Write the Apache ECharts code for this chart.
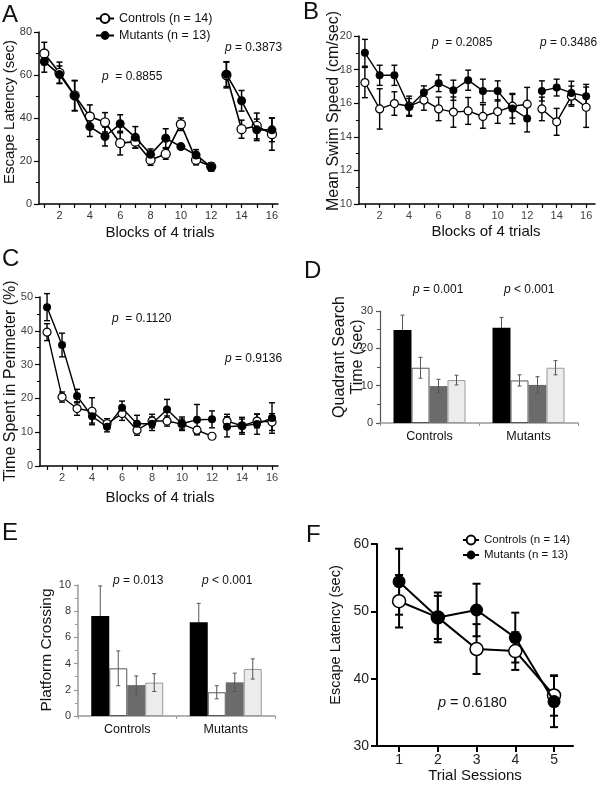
<!DOCTYPE html>
<html><head><meta charset="utf-8">
<script src="https://cdn.jsdelivr.net/npm/echarts@6/dist/echarts.min.js"></script>
<style>html,body{margin:0;padding:0;background:#fff}#c{width:600px;height:791px}</style>
</head><body><div id="c"></div>
<script>
// ---------------- DATA ----------------
const blocks = [1,2,3,4,5,6,7,8,9,10,11,12,13,14,15,16];
const blockLabels = [2,4,6,8,10,12,14,16];
const phase1Len = 12;

// Panel A: escape latency (sec)
const aCtrl    = [70,61,50.5,40.7,38,28.3,29,20.5,23.3,37.1,20.5,17.4,60,34.8,36.3,32.5];
const aCtrlErr = [5.2,5,7,5.4,4.5,5.5,3,2.5,2.5,2.9,2.3,1.8,6,4.2,6,7.5];
const aMut     = [66.3,60.2,50.3,36,31.4,37.3,31,23.1,30.6,26.7,22.8,17.1,60.4,48,34.5,34.5];
const aMutErr  = [5,4,7,4.6,4.4,4.2,5,2.5,4.4,1,2.5,1.8,5.8,4.8,5,5.5];

// Panel B: mean swim speed (cm/sec)
const bCtrl    = [17.23,15.66,15.98,15.82,16.18,15.66,15.47,15.54,15.21,15.5,15.82,15.94,15.66,14.89,16.42,15.76];
const bCtrlErr = [0.9,1.2,0.7,0.6,0.6,0.7,0.9,0.8,0.7,0.7,0.7,1.0,0.7,0.8,0.6,1.2];
const bMut     = [19.0,17.66,17.66,15.78,16.63,17.19,16.77,17.37,16.73,16.73,15.68,15.09,16.73,16.93,16.61,16.42];
const bMutErr  = [0.8,0.6,0.6,0.5,0.4,0.5,0.6,0.6,0.7,0.6,0.9,0.8,0.6,0.5,0.7,0.7];

// Panel C: time spent in perimeter (%)
const cCtrl    = [39.6,20.4,17,16.2,12.5,15.5,10.6,13.3,13.3,12.4,10.6,8.8,13.3,11.9,13.3,13];
const cCtrlErr = [2.5,1.5,2,4,1.5,2,1.5,2,1.5,1.5,1,0.8,2,2,2,2.5];
const cMut     = [47,35.8,20.7,14.7,11.6,17.2,12.5,12.5,16.7,12.5,13.7,13.8,11.6,11.9,12.4,14.2];
const cMutErr  = [4,3.5,2,2,1.5,2,2.5,2,3,2,4.5,2.5,3,2.5,3,4.5];

// Panel D: quadrant search time (sec)
const groups = ['Controls','Mutants'];
const dQ1 = [24.9,25.5], dQ1Err = [4,2.8];
const dQ2 = [14.8,11.4], dQ2Err = [2.8,1.5];
const dQ3 = [9.9,10.2],  dQ3Err = [1.8,2.2];
const dQ4 = [11.5,14.8], dQ4Err = [1.3,1.9];

// Panel E: platform crossing
const eQ1 = [7.63,7.15], eQ1Err = [2.3,1.45];
const eQ2 = [3.64,1.81], eQ2Err = [1.33,0.5];
const eQ3 = [2.36,2.57], eQ3Err = [0.7,0.7];
const eQ4 = [2.55,3.59], eQ4Err = [0.68,0.77];

// Panel F: escape latency over trial sessions
const sessions = [1,2,3,4,5];
const fCtrl    = [51.5,49.1,44.4,44.1,37.5];
const fCtrlErr = [3.9,3.2,3.7,2.8,3.0];
const fMut     = [54.4,49.1,50.2,46.1,36.6];
const fMutErr  = [4.9,3.7,3.9,3.7,3.8];

const ctrlName = 'Controls (n = 14)';
const mutName  = 'Mutants (n = 13)';

// ---------------- HELPERS ----------------
const FONT = "'Liberation Sans', Arial, Helvetica, sans-serif";

function yVal(gi, min, max, interval, o) {
  o = o || {};
  const lc = o.lineColor || '#000';
  return {gridIndex: gi, type: 'value', min: min, max: max, interval: interval,
    axisLine: {show: true, onZero: false, lineStyle: {color: lc, width: o.lineWidth || 1.5}},
    axisTick: {show: true, length: o.tickLen || 5, lineStyle: {color: lc, width: o.tickWidth || 1.2}},
    minorTick: {show: !!o.minor, splitNumber: 2, length: 3, lineStyle: {color: lc, width: 1}},
    axisLabel: {fontSize: o.fs || 11, color: o.labelColor || '#333', fontFamily: FONT, margin: o.margin || 7},
    splitLine: {show: false}, minorSplitLine: {show: false}};
}
function xVal(gi, min, max, ticks, labels, o) {
  o = o || {};
  const lc = o.lineColor || '#000';
  return {gridIndex: gi, type: 'value', min: min, max: max,
    axisLine: {show: true, onZero: false, lineStyle: {color: lc, width: o.lineWidth || 1.5}},
    axisTick: {show: true, customValues: ticks, length: o.tickLen || 4, lineStyle: {color: lc, width: o.tickWidth || 1.2}},
    axisLabel: {customValues: labels, fontSize: o.fs || 11, color: o.labelColor || '#333', fontFamily: FONT, margin: o.margin || 6},
    splitLine: {show: false}};
}
function xCat(gi, o) {
  return {gridIndex: gi, type: 'category', data: groups,
    axisLine: {show: true, lineStyle: {color: o.lineColor, width: o.lineWidth}},
    axisTick: {show: true, length: 3, lineStyle: {color: o.lineColor, width: 1}},
    axisLabel: {fontSize: 12.5, color: '#111', fontFamily: FONT, margin: 7},
    splitLine: {show: false}};
}

function errRender(capW, color, lw, offset, lowColor) {
  return function (params, api) {
    const x = api.value(0), y = api.value(1), e = api.value(2);
    const top = api.coord([x, y + e]), mid = api.coord([x, y]), bot = api.coord([x, y - e]);
    const cx = top[0] + (offset || 0), h = capW / 2;
    const st = {stroke: color, lineWidth: lw};
    const st2 = {stroke: lowColor || color, lineWidth: lw};
    return {type: 'group', children: [
      {type: 'line', shape: {x1: cx, y1: top[1], x2: cx, y2: mid[1]}, style: st},
      {type: 'line', shape: {x1: cx, y1: mid[1], x2: cx, y2: bot[1]}, style: st2},
      {type: 'line', shape: {x1: cx - h, y1: top[1], x2: cx + h, y2: top[1]}, style: st},
      {type: 'line', shape: {x1: cx - h, y1: bot[1], x2: cx + h, y2: bot[1]}, style: st2}
    ]};
  };
}

const series = [];
function linePanel(gi, xs, ctrl, ctrlErr, mut, mutErr, split, st, names) {
  const errC = xs.map((x, i) => [x, ctrl[i], ctrlErr[i]]);
  const errM = xs.map((x, i) => [x, mut[i], mutErr[i]]);
  [errC, errM].forEach(d => series.push({type: 'custom', xAxisIndex: gi, yAxisIndex: gi, z: 2,
    renderItem: errRender(st.cap, '#000', st.errW), data: d, encode: {x: 0, y: 1}, silent: true}));
  const parts = split ? [[0, split], [split, xs.length]] : [[0, xs.length]];
  const defs = [
    {name: names[0], vals: ctrl, item: {color: '#fff', borderColor: '#000', borderWidth: st.bw}, z: 4},
    {name: names[1], vals: mut, item: {color: '#000', borderColor: '#000', borderWidth: 0}, z: 5}
  ];
  defs.forEach(d => parts.forEach(p => {
    series.push({type: 'line', name: d.name, xAxisIndex: gi, yAxisIndex: gi, z: d.z,
      data: xs.slice(p[0], p[1]).map((x, k) => [x, d.vals[p[0] + k]]),
      symbol: 'circle', symbolSize: st.sym, showSymbol: true,
      lineStyle: {color: '#000', width: st.lw}, itemStyle: d.item,
      emphasis: {disabled: true}});
  }));
}

function barPanel(gi, vals, errs, bw, errColor) {
  const styles = [
    {color: '#000'},
    {color: '#fff', borderColor: '#555', borderWidth: 1},
    {color: '#6b6b6b'},
    {color: '#ececec', borderColor: '#999', borderWidth: 1}
  ];
  const lows = ['#000', errColor, errColor, errColor];
  vals.forEach((v, k) => {
    series.push({type: 'bar', name: 'Q' + (k + 1), xAxisIndex: gi, yAxisIndex: gi, data: v,
      barWidth: bw, barGap: '0%', itemStyle: styles[k], z: 2, emphasis: {disabled: true}});
  });
  vals.forEach((v, k) => {
    series.push({type: 'custom', xAxisIndex: gi, yAxisIndex: gi, z: 3, silent: true,
      renderItem: errRender(4, errColor, 1, (k - 1.5) * bw, lows[k]),
      data: groups.map((g, i) => [i, v[i], errs[k][i]]), encode: {x: 0, y: 1}});
  });
}

// ---------------- SERIES ----------------
linePanel(0, blocks, aCtrl, aCtrlErr, aMut, aMutErr, phase1Len, {cap: 6, errW: 1.5, sym: 9, lw: 1.6, bw: 1.3}, [ctrlName, mutName]);
linePanel(1, blocks, bCtrl, bCtrlErr, bMut, bMutErr, phase1Len, {cap: 6, errW: 1.4, sym: 8, lw: 1.4, bw: 1.2}, ['Controls', 'Mutants']);
linePanel(2, blocks, cCtrl, cCtrlErr, cMut, cMutErr, phase1Len, {cap: 6, errW: 1.4, sym: 8, lw: 1.4, bw: 1.2}, ['Controls', 'Mutants']);
barPanel(3, [dQ1, dQ2, dQ3, dQ4], [dQ1Err, dQ2Err, dQ3Err, dQ4Err], 18, '#555');
barPanel(4, [eQ1, eQ2, eQ3, eQ4], [eQ1Err, eQ2Err, eQ3Err, eQ4Err], 18, '#555');
linePanel(5, sessions, fCtrl, fCtrlErr, fMut, fMutErr, 0, {cap: 8, errW: 2, sym: 13, lw: 2, bw: 1.5}, [ctrlName, mutName]);

// ---------------- TEXT ----------------
function txt(x, y, text, size, o) {
  o = o || {};
  return {type: 'text', x: x, y: y, rotation: o.rot || 0, silent: true, z: 10,
    style: {text: text, fontSize: size, fontFamily: FONT, fill: o.color || '#111',
      align: o.align || 'left', verticalAlign: 'middle',
      textAlign: o.align || 'left', textVerticalAlign: 'middle',
      lineHeight: o.lh, rich: {i: {fontStyle: 'italic', fontSize: size, fontFamily: FONT, fill: o.color || '#111'}}}};
}
const R = Math.PI / 2;
const graphics = [
  // panel letters
  txt(2, 15, 'A', 24), txt(303, 12, 'B', 24), txt(2, 259, 'C', 24),
  txt(304, 271, 'D', 24), txt(2, 533, 'E', 24), txt(306, 535, 'F', 24),
  // y titles
  txt(10, 112, 'Escape Latency (sec)', 15, {rot: R, align: 'center'}),
  txt(334, 111, 'Mean Swim Speed (cm/sec)', 16, {rot: R, align: 'center'}),
  txt(11, 381, 'Time Spent in Perimeter (%)', 16, {rot: R, align: 'center'}),
  txt(340, 357, 'Quadrant Search', 16, {rot: R, align: 'center'}),
  txt(358, 357, 'Time (sec)', 16, {rot: R, align: 'center'}),
  txt(47, 650, 'Platform Crossing', 15.5, {rot: R, align: 'center'}),
  txt(336, 635, 'Escape Latency (sec)', 14.5, {rot: R, align: 'center'}),
  // x titles
  txt(160, 233, 'Blocks of 4 trials', 15, {align: 'center'}),
  txt(486, 232, 'Blocks of 4 trials', 15, {align: 'center'}),
  txt(160, 498, 'Blocks of 4 trials', 15, {align: 'center'}),
  txt(475, 776, 'Trial Sessions', 15, {align: 'center'}),
  // p values
  txt(102, 77, '{i|p}  = 0.8855', 12),
  txt(225, 48, '{i|p} = 0.3873', 12),
  txt(432, 43, '{i|p}  = 0.2085', 12),
  txt(540, 43, '{i|p} = 0.3486', 12),
  txt(112, 319, '{i|p}  = 0.1120', 12),
  txt(225, 359, '{i|p} = 0.9136', 12),
  txt(413, 290, '{i|p} = 0.001', 12),
  txt(504, 290, '{i|p} < 0.001', 12),
  txt(113, 581, '{i|p} = 0.013', 12),
  txt(202, 581, '{i|p} < 0.001', 12),
  txt(438, 703, '{i|p} = 0.6180', 14.5)
];

// ---------------- OPTION ----------------
const option = {
  animation: false,
  backgroundColor: '#fff',
  textStyle: {fontFamily: FONT},
  grid: [
    {left: 39, top: 32, width: 239, height: 172},
    {left: 359, top: 36, width: 236, height: 168},
    {left: 40, top: 297, width: 238, height: 169},
    {left: 380, top: 311, width: 198, height: 112},
    {left: 78, top: 585, width: 197, height: 131},
    {left: 377, top: 544, width: 196, height: 202}
  ],
  xAxis: [
    xVal(0, 0.65, 16.4, blocks, blockLabels, {}),
    xVal(1, 0.6, 16.6, blocks, blockLabels, {labelColor: '#444'}),
    xVal(2, 0.53, 16.4, blocks, blockLabels, {labelColor: '#444'}),
    xCat(3, {lineColor: '#999', lineWidth: 1.5}),
    xCat(4, {lineColor: '#999', lineWidth: 1.5}),
    xVal(5, 0.43, 5.49, sessions, sessions, {lineWidth: 2, tickWidth: 2, tickLen: 6, fs: 14, labelColor: '#222', margin: 7})
  ],
  yAxis: [
    yVal(0, 0, 80, 20, {minor: true}),
    yVal(1, 10, 20, 2, {minor: true, labelColor: '#444'}),
    yVal(2, 0, 50, 10, {minor: true, labelColor: '#444'}),
    yVal(3, 0, 30, 10, {minor: true, lineColor: '#555', lineWidth: 1.2, tickLen: 4}),
    yVal(4, 0, 10, 2, {minor: true, lineColor: '#999', lineWidth: 1.5, tickLen: 4}),
    yVal(5, 30, 60, 10, {lineWidth: 2, tickWidth: 2, tickLen: 6, fs: 14, labelColor: '#222', margin: 8})
  ],
  legend: [
    {data: [ctrlName, mutName], left: 90, top: 7, orient: 'vertical', selectedMode: false,
      itemWidth: 18, itemHeight: 11, itemGap: 4,
      textStyle: {fontSize: 12.5, fontFamily: FONT, color: '#111'}},
    {data: [ctrlName, mutName], left: 457, top: 529, orient: 'vertical', selectedMode: false,
      itemWidth: 16, itemHeight: 11, itemGap: 3,
      textStyle: {fontSize: 11.5, fontFamily: FONT, color: '#111'}}
  ],
  graphic: graphics,
  series: series
};

const chart = echarts.init(document.getElementById('c'), null, {renderer: 'canvas'});
chart.setOption(option);
</script></body></html>
